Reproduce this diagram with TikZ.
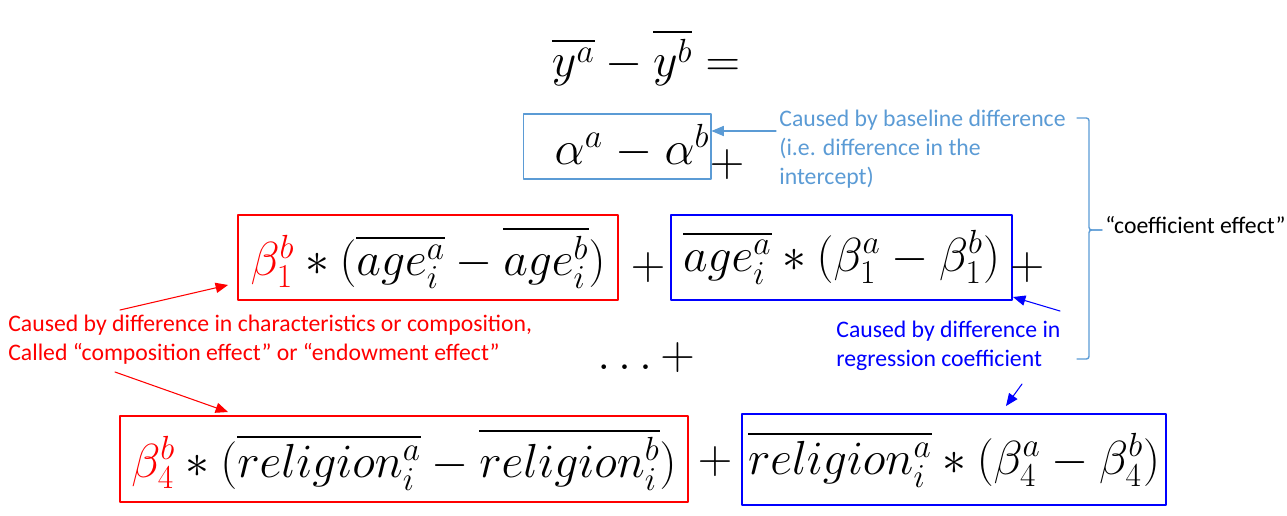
\RequirePackage{fix-cm}
\documentclass[tikz,border=0pt]{standalone}
\usepackage{amssymb}
\usepackage{fontspec}
\usepackage{tikz}
\usetikzlibrary{arrows}
\newfontfamily\calibri{Carlito}
\definecolor{bleuclair}{RGB}{91,155,213}
\definecolor{rouge}{RGB}{255,0,0}
\definecolor{bleu}{RGB}{0,0,255}

\begin{document}
\begin{tikzpicture}[line cap=round,line join=round,>=triangle 45,x=0.02cm,y=-0.02cm,
		eq/.style={font=\fontsize{27.2}{33}\selectfont,inner sep=0pt},
		cadre/.style={eq,draw,line width=0.8pt},
		txt/.style={font=\calibri\fontsize{13.5}{16.5}\selectfont,align=left,anchor=west,inner sep=0pt},
		fleche/.style={->,line width=0.6pt}]
		\useasboundingbox (0,0) rectangle (1287,515);
		% Ligne 0
		\node[eq,anchor=base] (titre) at (646,76) {$\overline{y^a}-\overline{y^b}=$};
		% Ligne 1
		\node[cadre,draw=bleuclair,line width=0.6pt,text width=3.7cm,align=right,inner xsep=0.03cm,minimum height=1.3cm] (alpha) at (617,146.5) {$\alpha^a-\alpha^b$};
		\node[eq] (plusA) at (727,165) {$+$};
		% Ligne 2
		\node[cadre,draw=rouge,minimum width=7.6cm,minimum height=1.7cm] (age1) at (428,257.5)
			{${\color{rouge}\beta_1^b}*(\overline{age_i^a}-\overline{age_i^b})$};
		\node[eq] (plusB) at (648,268) {$+$};
		\node[cadre,draw=bleu,minimum width=6.82cm,minimum height=1.7cm] (age2) at (841.5,257.5)
			{$\overline{age_i^a}*(\beta_1^a-\beta_1^b)$};
		\node[eq] (plusC) at (1027,268) {$+$};
		% Ligne 3
		\node[eq] (pts) at (646,358) {$\ldots+$};
		% Ligne 4
		\node[cadre,draw=rouge,minimum width=11.36cm,minimum height=1.72cm] (rel1) at (404,459)
			{${\color{rouge}\beta_4^b}*(\overline{religion_i^a}-\overline{religion_i^b})$};
		\node[eq] (plusD) at (715,462) {$+$};
		\node[cadre,draw=bleu,minimum width=8.48cm,minimum height=1.82cm] (rel2) at (954,459.5)
			{$\overline{religion_i^a}*(\beta_4^a-\beta_4^b)$};
		% textes
		\node[txt,text=bleuclair] (baseline) at (779,149) {Caused by baseline difference\\(i.e. difference in the\\intercept)};
		\node[txt,text=rouge] (compo) at (8,340) {Caused by difference in characteristics or composition,\\Called “composition effect” or “endowment effect”};
		\node[txt,text=bleu] (regcoef) at (836,346) {Caused by difference in\\regression coefficient};
		\node[txt] (effet) at (1105,225) {“coefficient effect”};
		% fleches
		\coordinate (a1) at (776,131);
		\draw[fleche,bleuclair] (a1) -- (alpha.east |- a1);
		\coordinate (r1) at (120,310);
		\coordinate (r1b) at (228,285);
		\draw[fleche,rouge] (r1) -- (r1b);
		\coordinate (r2) at (115,372);
		\coordinate (r2b) at (228,412);
		\draw[fleche,rouge] (r2) -- (r2b);
		\coordinate (b1) at (1060,311);
		\coordinate (b1b) at (1013,297);
		\draw[fleche,bleu] (b1) -- (b1b);
		\coordinate (b2) at (1022,384);
		\coordinate (b2b) at (1006,406);
		\draw[fleche,bleu] (b2) -- (b2b);
		% accolade
		\draw[bleuclair,line width=0.8pt,rounded corners=1.5pt] (1077,118) -| (1089,230) -- (1102,230);
		\draw[bleuclair,line width=0.8pt,rounded corners=1.5pt] (1102,230) -- (1089,230) |- (1077,359);
	\end{tikzpicture}
\end{document}
